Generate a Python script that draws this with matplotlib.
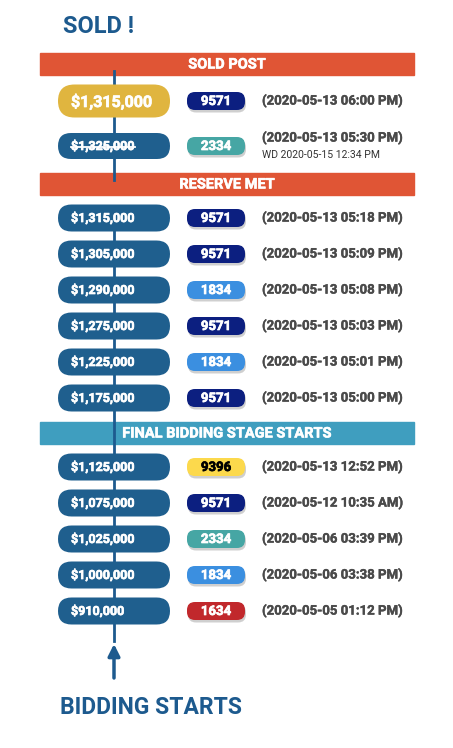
import matplotlib
matplotlib.use('Agg')
import matplotlib.pyplot as plt
import matplotlib.patheffects as pe
from matplotlib.patches import FancyBboxPatch, Rectangle

plt.rcParams['font.family'] = ['Roboto', 'DejaVu Sans']

# sold post section
sold_amounts = ['$1,315,000', '$1,325,000']
sold_bidders = ['9571', '2334']
sold_times = ['(2020-05-13 06:00 PM)', '(2020-05-13 05:30 PM)']
withdrawn_note = 'WD 2020-05-15 12:34 PM'

# reserve met section
reserve_amounts = ['$1,315,000', '$1,305,000', '$1,290,000', '$1,275,000', '$1,225,000', '$1,175,000']
reserve_bidders = ['9571', '9571', '1834', '9571', '1834', '9571']
reserve_times = ['(2020-05-13 05:18 PM)', '(2020-05-13 05:09 PM)', '(2020-05-13 05:08 PM)',
                 '(2020-05-13 05:03 PM)', '(2020-05-13 05:01 PM)', '(2020-05-13 05:00 PM)']

# final bidding stage
final_amounts = ['$1,125,000', '$1,075,000', '$1,025,000', '$1,000,000', '$910,000']
final_bidders = ['9396', '9571', '2334', '1834', '1634']
final_times = ['(2020-05-13 12:52 PM)', '(2020-05-12 10:35 AM)', '(2020-05-06 03:39 PM)',
               '(2020-05-06 03:38 PM)', '(2020-05-05 01:12 PM)']

bidder_colors = {'9571': '#0c1f80', '2334': '#46a6a4', '1834': '#3b8fe0',
                 '9396': '#fcd94c', '1634': '#c1282c'}
bidder_text = {'9396': 'black'}

NAVY = '#1d5a8e'
PILL = '#1f5f8e'
ORANGE = '#e05535'
TEAL = '#3f9ebf'
GREY = '#4a4a4a'

fig = plt.figure(figsize=(4.53, 7.48), dpi=100)
ax = fig.add_axes([0, 0, 1, 1])
ax.set_xlim(0, 453)
ax.set_ylim(748, 0)
ax.axis('off')

LINE_X = 114


def thick(color, w=0.5):
    return [pe.withStroke(linewidth=w, foreground=color)]


def banner(y0, y1, label, color):
    ax.add_patch(Rectangle((40, y0), 374, y1 - y0, color=color, zorder=2))
    ax.text(227, (y0 + y1) / 2 + 0.5, label, color='white', fontsize=10.5, fontweight='bold',
            ha='center', va='center', zorder=4, path_effects=thick('white', 0.4))


def pill(yc, h, color, label, size):
    ax.add_patch(FancyBboxPatch((58, yc - h / 2), 112, h,
                                boxstyle='round,pad=0,rounding_size=%f' % (h / 2),
                                fc=color, ec='none', zorder=3))
    t = ax.text(71, yc + 0.5, label, color='white', fontsize=size, fontweight='bold',
                ha='left', va='center', zorder=4, path_effects=thick('white'))
    return t


def badge(yc, bidder):
    c = bidder_colors[bidder]
    tc = bidder_text.get(bidder, 'white')
    ax.add_patch(FancyBboxPatch((188, yc - 9 + 2.5), 58, 18,
                                boxstyle='round,pad=0,rounding_size=8',
                                fc='#b0b0b0', ec='none', alpha=0.6, zorder=3))
    ax.add_patch(FancyBboxPatch((187, yc - 9), 58, 18,
                                boxstyle='round,pad=0,rounding_size=8',
                                fc=c, ec='none', zorder=3))
    ax.text(216, yc + 0.5, bidder, color=tc, fontsize=9.5,
            fontweight='bold', ha='center', va='center', zorder=4, path_effects=thick(tc))


def when(yc, label):
    ax.text(262, yc, label, color=GREY, fontsize=9.5, fontweight='bold',
            ha='left', va='center', zorder=4, path_effects=thick(GREY, 0.3))


# titles
ax.text(63, 26, 'SOLD !', color=NAVY, fontsize=17, fontweight='bold', ha='left', va='center')
ax.text(60, 707, 'BIDDING STARTS', color=NAVY, fontsize=16.5, fontweight='bold',
        ha='left', va='center')

# sold post
banner(53, 75, 'SOLD POST', ORANGE)
ax.plot([LINE_X, LINE_X], [71, 180], color=NAVY, lw=2, zorder=3)
sold_rows = [101, 146]
pill(sold_rows[0], 33, '#e0b53f', sold_amounts[0], 11.5)
struck = pill(sold_rows[1], 26, PILL, sold_amounts[1], 9)
for yc, b in zip(sold_rows, sold_bidders):
    badge(yc, b)
when(sold_rows[0], sold_times[0])
when(sold_rows[1] - 8, sold_times[1])
ax.text(262, sold_rows[1] + 8.5, withdrawn_note, color='#333333', fontsize=7.5,
        ha='left', va='center', zorder=4)

# strike through the withdrawn bid
fig.canvas.draw()
bb = struck.get_window_extent().transformed(ax.transData.inverted())
ax.plot([bb.x0, bb.x1], [sold_rows[1] + 1, sold_rows[1] + 1], color='white', lw=1.3, zorder=5)

# reserve met
banner(173, 195, 'RESERVE MET', ORANGE)
ax.plot([LINE_X, LINE_X], [217, 641], color=NAVY, lw=2, zorder=3)
for i, (a, b, t) in enumerate(zip(reserve_amounts, reserve_bidders, reserve_times)):
    yc = 218 + 36 * i
    pill(yc, 27, PILL, a, 9)
    badge(yc, b)
    when(yc, t)

# final bidding stage
banner(422, 444, 'FINAL BIDDING STAGE STARTS', TEAL)
for i, (a, b, t) in enumerate(zip(final_amounts, final_bidders, final_times)):
    yc = 467 + 36 * i
    pill(yc, 27, PILL, a, 9)
    badge(yc, b)
    when(yc, t)

# arrow
ax.annotate('', xy=(LINE_X, 644), xytext=(LINE_X, 678),
            arrowprops=dict(arrowstyle='-|>,head_length=0.7,head_width=0.35',
                            color=NAVY, lw=2.5, shrinkA=0, shrinkB=0))

fig.savefig('out.png', dpi=100)
